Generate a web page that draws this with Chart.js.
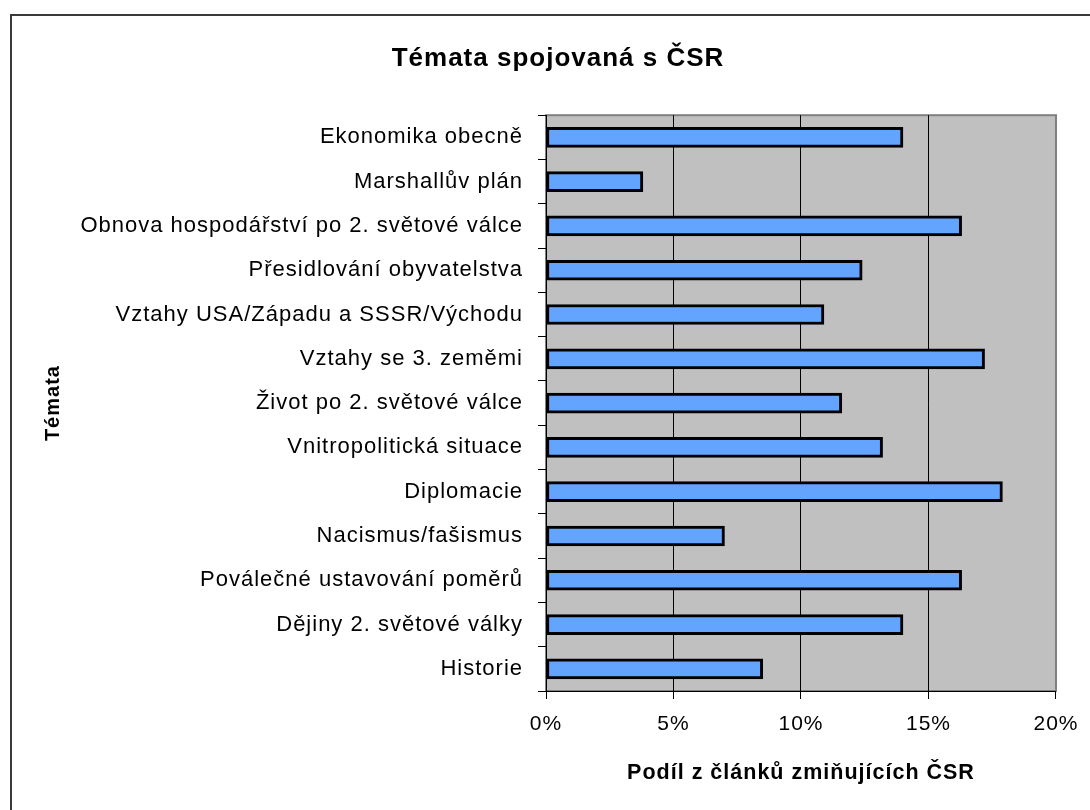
<!DOCTYPE html>
<html lang="cs">
<head>
<meta charset="utf-8">
<title>Témata spojovaná s ČSR</title>
<script src="https://cdn.jsdelivr.net/npm/chart.js@4"></script>
<style>
    html, body {
        margin: 0;
        padding: 0;
        background: #fff;
        overflow: hidden;
    }
    #chart {
        position: absolute;
        left: 0;
        top: 0;
    }
    .frame {
        position: absolute;
        left: 10px;
        top: 14px;
        width: 2000px;
        height: 2000px;
        border-left: 2px solid #3a3a3a;
        border-top: 2px solid #3a3a3a;
        pointer-events: none;
    }
</style>
</head>
<body>
<canvas id="chart" width="1090" height="810"></canvas>
<div class="frame"></div>
<script>
const categories = [
    'Ekonomika obecně',
    'Marshallův plán',
    'Obnova hospodářství po 2. světové válce',
    'Přesidlování obyvatelstva',
    'Vztahy USA/Západu a SSSR/Východu',
    'Vztahy se 3. zeměmi',
    'Život po 2. světové válce',
    'Vnitropolitická situace',
    'Diplomacie',
    'Nacismus/fašismus',
    'Poválečné ustavování poměrů',
    'Dějiny 2. světové války',
    'Historie'
];
const shares = [14.0, 3.8, 16.3, 12.4, 10.9, 17.2, 11.6, 13.2, 17.9, 7.0, 16.3, 14.0, 8.5];
const xMin = 0;
const xMax = 20;
const xStep = 5;

const chartTitle = 'Témata spojovaná s ČSR';
const xTitle = 'Podíl z článků zmiňujících ČSR';
const yTitle = 'Témata';

const fontFamily = '"Liberation Sans", Arial, sans-serif';

// grey plot background + thin grey border, like the old Excel look
const plotBackground = {
    id: 'plotBackground',
    beforeDraw(chart) {
        const { ctx, chartArea: a } = chart;
        ctx.letterSpacing = '1px';
        ctx.save();
        ctx.fillStyle = '#c0c0c0';
        ctx.fillRect(a.left, a.top, a.right - a.left, a.bottom - a.top);
        ctx.strokeStyle = '#808080';
        ctx.lineWidth = 2;
        ctx.strokeRect(a.left, a.top, a.right - a.left, a.bottom - a.top);
        ctx.restore();
    }
};

new Chart(document.getElementById('chart'), {
    type: 'bar',
    data: {
        labels: categories,
        datasets: [{
            label: yTitle,
            data: shares,
            backgroundColor: '#63a4ff',
            borderColor: '#000',
            borderWidth: 3,
            borderSkipped: false,
            barThickness: 20
        }]
    },
    options: {
        indexAxis: 'y',
        responsive: false,
        animation: false,
        devicePixelRatio: 1,
        layout: {
            padding: { left: 60, right: 34, top: 0, bottom: 0 }
        },
        plugins: {
            legend: { display: false },
            tooltip: { enabled: false },
            title: {
                display: true,
                text: chartTitle,
                color: '#000',
                font: { family: fontFamily, size: 26, weight: 'bold' },
                padding: { top: 43, bottom: 41 }
            }
        },
        scales: {
            x: {
                min: xMin,
                max: xMax,
                afterFit(scale) { scale.height = 119; },
                ticks: {
                    stepSize: xStep,
                    color: '#000',
                    padding: 13,
                    font: { family: fontFamily, size: 21 },
                    callback: v => v + '%'
                },
                grid: {
                    color: c => (c.tick && c.tick.value === xMax) ? '#808080' : '#000',
                    tickColor: '#000',
                    tickLength: 8,
                    lineWidth: 1
                },
                border: { color: '#000', width: 1 },
                title: {
                    display: true,
                    text: xTitle,
                    color: '#000',
                    font: { family: fontFamily, size: 21.5, weight: 'bold' },
                    padding: { top: 0, bottom: 24 }
                }
            },
            y: {
                afterFit(scale) { scale.width = 486; },
                ticks: {
                    color: '#000',
                    padding: 15,
                    font: { family: fontFamily, size: 22 }
                },
                grid: {
                    offset: true,
                    drawOnChartArea: false,
                    color: '#000',
                    tickLength: 8
                },
                border: { color: '#000', width: 1 },
                title: {
                    display: true,
                    text: yTitle,
                    color: '#000',
                    font: { family: fontFamily, size: 20, weight: 'bold' },
                    padding: { top: -19, bottom: 0 }
                }
            }
        }
    },
    plugins: [plotBackground]
});
</script>
</body>
</html>
